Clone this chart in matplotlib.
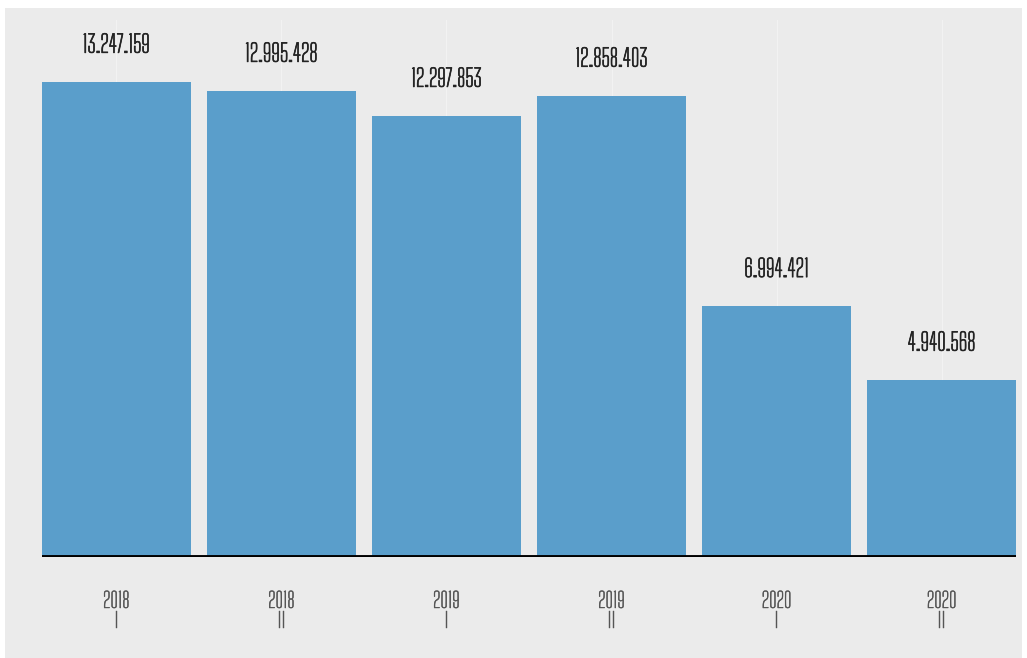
import matplotlib
matplotlib.use('Agg')
import matplotlib.pyplot as plt
import matplotlib.patheffects as pe
from matplotlib.patches import Rectangle

# Data
years = ['2018', '2018', '2019', '2019', '2020', '2020']
halves = ['I', 'II', 'I', 'II', 'I', 'II']
values = [13247159, 12995428, 12297853, 12858403, 6994421, 4940568]
value_labels = ['13.247.159', '12.995.428', '12.297.853', '12.858.403', '6.994.421', '4.940.568']

plt.rcParams['font.family'] = ['Big Shoulders Text', 'Teko', 'DejaVu Sans']

W, H = 1027, 658
fig = plt.figure(figsize=(W / 100, H / 100), dpi=100)
fig.patch.set_facecolor('white')

# gray panel behind the plot
fig.patches.append(Rectangle((5 / W, 0), (1022 - 5) / W, (H - 8) / H,
                             transform=fig.transFigure, facecolor='#ebebeb',
                             edgecolor='none', zorder=-10))

ax = fig.add_axes([42 / W, (H - 557) / H, (1016 - 42) / W, (557 - 20) / H])
ax.set_facecolor('none')

x = list(range(len(values)))
ax.bar(x, values, width=0.9, color='#5a9ecb', zorder=2)

# value labels above the bars (light stroke makes the thin face a bit heavier)
val_fx = [pe.withStroke(linewidth=0.5, foreground='#222222')]
for xi, v, lab in zip(x, values, value_labels):
    ax.annotate(lab, (xi, v), xytext=(0, 29), textcoords='offset pixels',
                ha='center', va='baseline', fontsize=17.5, color='#222222',
                path_effects=val_fx)

ax.set_xlim(-0.45, len(values) - 0.55)
ax.set_ylim(0, 14970000)

# faint white vertical grid at bar centers
for xi in x:
    ax.axvline(xi, color='white', lw=0.8, alpha=0.4, zorder=1)

ax.axhline(0, color='black', lw=2.8, zorder=3)

# two-line category labels (year / half)
tick_fx = [pe.withStroke(linewidth=0.3, foreground='#555555')]
for xi, yr, hf in zip(x, years, halves):
    ax.annotate(yr, (xi, 0), xycoords=('data', 'axes fraction'), xytext=(0, -51),
                textcoords='offset pixels', ha='center', va='baseline',
                fontsize=15.5, color='#555555', path_effects=tick_fx)
    ax.annotate(hf, (xi, 0), xycoords=('data', 'axes fraction'), xytext=(0, -71),
                textcoords='offset pixels', ha='center', va='baseline',
                fontsize=15.5, color='#555555', path_effects=tick_fx)

ax.set_xticks([])
ax.set_yticks([])
for s in ax.spines.values():
    s.set_visible(False)

fig.savefig('out.png', dpi=100, facecolor=fig.get_facecolor())
